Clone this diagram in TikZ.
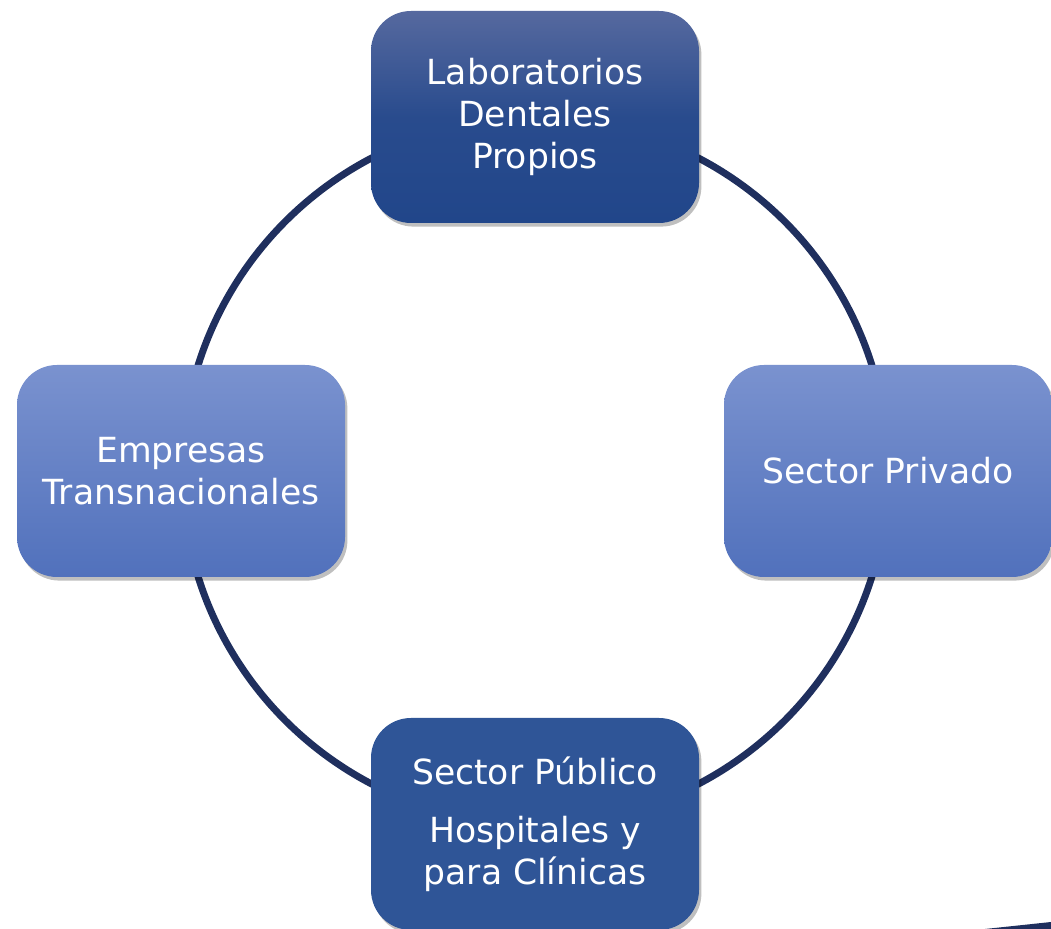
\documentclass[tikz,border=0pt]{standalone}
\usepackage{fontspec}
\setmainfont{DejaVu Sans}
\usetikzlibrary{shadows}
\definecolor{ringblue}{HTML}{1F2F5E}
\definecolor{darktop}{HTML}{56699F}
\definecolor{darkbot}{HTML}{21468A}
\definecolor{lighttop}{HTML}{7A92CF}
\definecolor{lightbot}{HTML}{5171BC}
\definecolor{flatblue}{HTML}{2F5597}

\begin{document}
\begin{tikzpicture}
[x=0.5pt,y=-0.5pt,
sectorbox/.style={draw=none,rounded corners=20pt,minimum width=164pt,minimum height=106pt,inner sep=0pt,align=center,text=white,font=\fontsize{17.3}{21}\selectfont,drop shadow={shadow xshift=1.2pt,shadow yshift=-1.8pt,opacity=.25,fill=black}},
darkbox/.style={sectorbox,top color=darktop,bottom color=darkbot,middle color=darkbot!85!darktop},
lightbox/.style={sectorbox,top color=lighttop,bottom color=lightbot},
flatbox/.style={sectorbox,fill=flatblue},
ring/.style={draw=ringblue,line width=3.5pt}]
\useasboundingbox (0,0) rectangle (1051,929);
\coordinate (c) at (535,471);
\draw[ring] (c) circle[radius=176.5pt];
\node[darkbox] (lab) at (535,117) {\raisebox{-2pt}{\parbox{150pt}{\centering Laboratorios\\Dentales\\Propios}}};
\node[lightbox] (emp) at (181,471) {Empresas\\Transnacionales};
\node[lightbox] (pri) at (888,471) {\raisebox{-1.5pt}{Sector Privado}};
\node[flatbox] (pub) at (535,824) {Sector Público\\[8pt]Hospitales y\\para Clínicas};
\fill[ringblue] (985,929) -- (1051,922) -- (1051,929) -- cycle;
\end{tikzpicture}
\end{document}
